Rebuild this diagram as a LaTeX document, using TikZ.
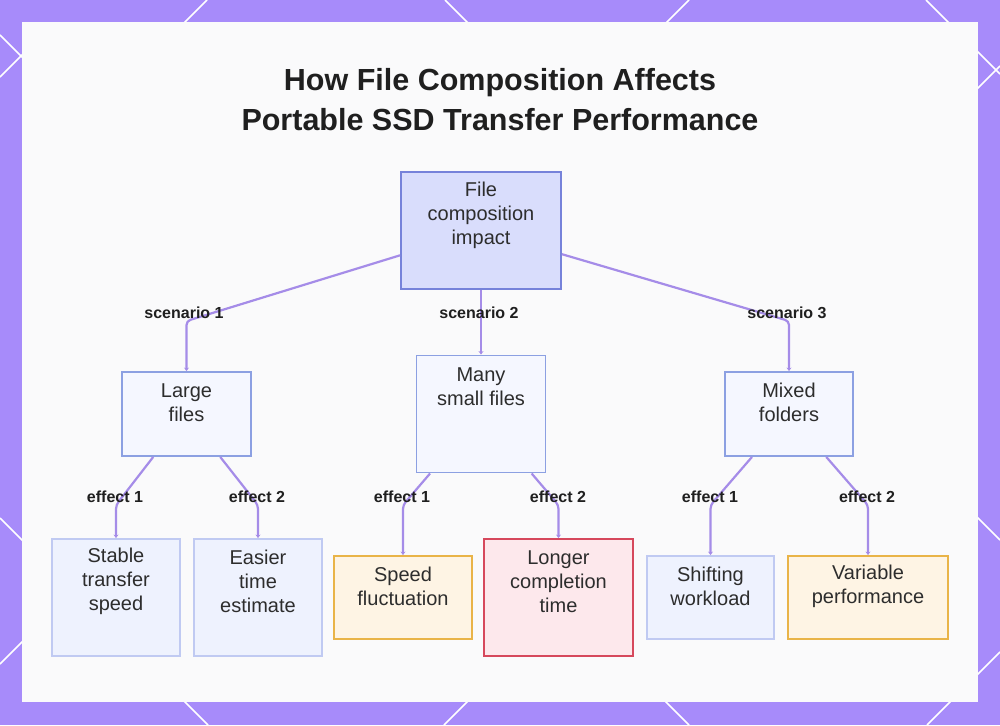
\documentclass[tikz,border=0pt]{standalone}
\usepackage{fontspec}
\setmainfont{Liberation Sans}
\usetikzlibrary{arrows.meta}
\definecolor{bordpurple}{RGB}{167,139,250}
\definecolor{panelbg}{RGB}{250,250,251}
\definecolor{connc}{RGB}{165,140,232}
\definecolor{rootfill}{RGB}{217,221,252}
\definecolor{rootdraw}{RGB}{118,130,218}
\definecolor{midfill}{RGB}{245,247,255}
\definecolor{middraw}{RGB}{140,160,226}
\definecolor{leaffill}{RGB}{238,242,254}
\definecolor{leafdraw}{RGB}{192,202,242}
\definecolor{orfill}{RGB}{254,244,228}
\definecolor{ordraw}{RGB}{233,180,72}
\definecolor{redfill}{RGB}{253,232,236}
\definecolor{reddraw}{RGB}{214,72,92}
\definecolor{txtc}{RGB}{45,45,45}
\begin{document}
\begin{tikzpicture}[x=1pt,y=-1pt,
  box/.style={draw, rectangle, line width=1.9pt, inner sep=0pt},
  rootbox/.style={box, fill=rootfill, draw=rootdraw},
  midbox/.style={box, fill=midfill, draw=middraw},
  leafbox/.style={box, fill=leaffill, draw=leafdraw},
  orbox/.style={box, fill=orfill, draw=ordraw},
  redbox/.style={box, fill=redfill, draw=reddraw},
  txt/.style={align=center, text=txtc, inner sep=0pt, font=\fontsize{20}{24}\selectfont},
  elabel/.style={inner sep=0pt, text=black!88, font=\bfseries\fontsize{16}{18}\selectfont},
  conn/.style={draw=connc, line width=2.2pt, rounded corners=4pt, -{Stealth[length=3.5pt,width=5pt]}},
  deco/.style={draw=white, line width=1.5pt}
]
\useasboundingbox (0,0) rectangle (1000,725);
\fill[bordpurple] (0,0) rectangle (1000,725);
% decorative lines on the frame
\draw[deco] (207,0) -- (180,27);
\draw[deco] (445,0) -- (472,27);
\draw[deco] (689,0) -- (662,27);
\draw[deco] (926,0) -- (982,56) -- (1000,74);
\draw[deco] (180,697) -- (208,725);
\draw[deco] (472,697) -- (444,725);
\draw[deco] (661,697) -- (689,725);
\draw[deco] (1000,652) -- (927,725);
\draw[deco] (0,35) -- (27,62);
\draw[deco] (27,50) -- (0,77);
\draw[deco] (0,518) -- (27,545);
\draw[deco] (27,637) -- (0,664);
\draw[deco] (973,93) -- (1000,66);
\draw[deco] (973,513) -- (1000,540);
\fill[panelbg] (22,22) rectangle (978,702);

% title
\node[align=center, text=black!88, inner sep=0pt, font=\bfseries\fontsize{30.5}{40}\selectfont] (title) at (500,100) {How File Composition Affects\\Portable SSD Transfer Performance};

% nodes
\node[rootbox, minimum width=160pt, minimum height=117pt,
  label={[txt, name=rootT, yshift=15.5pt]center:File\\composition\\impact}] (root) at (481,230.5) {};
\node[midbox, minimum width=129pt, minimum height=84pt,
  label={[txt, name=largeT, yshift=11.5pt]center:Large\\files}] (large) at (186.5,414) {};
\node[midbox, minimum width=129pt, minimum height=117pt,
  label={[txt, name=manyT, yshift=27.5pt]center:Many\\small files}] (many) at (481,414) {};
\node[midbox, minimum width=128pt, minimum height=84pt,
  label={[txt, name=mixedT, yshift=11.5pt]center:Mixed\\folders}] (mixed) at (789,414) {};

\node[leafbox, minimum width=128pt, minimum height=117pt,
  label={[txt, name=stableT, yshift=16pt]center:Stable\\transfer\\speed}] (stable) at (116,597.5) {};
\node[leafbox, minimum width=128pt, minimum height=117pt,
  label={[txt, name=easierT, yshift=16pt]center:Easier\\time\\estimate}] (easier) at (258,597.5) {};
\node[orbox, minimum width=138pt, minimum height=83pt,
  label={[txt, name=speedT, yshift=11pt]center:Speed\\fluctuation}] (speed) at (403,597.5) {};
\node[redbox, minimum width=149pt, minimum height=117pt,
  label={[txt, name=longerT, yshift=15.5pt]center:Longer\\completion\\time}] (longer) at (558.5,597.5) {};
\node[leafbox, minimum width=127pt, minimum height=83pt,
  label={[txt, name=shiftT, yshift=11pt]center:Shifting\\workload}] (shift) at (710.5,597.5) {};
\node[orbox, minimum width=160pt, minimum height=83pt,
  label={[txt, name=varT, yshift=11pt]center:Variable\\performance}] (var) at (868,597.5) {};

% bend points
\coordinate (b1) at (186.5,321);
\coordinate (b3) at (789,321);
\coordinate (e11) at (116,505);
\coordinate (e12) at (258,505);
\coordinate (e21) at (403,505);
\coordinate (e22) at (558.5,505);
\coordinate (e31) at (710.5,505);
\coordinate (e32) at (868,505);

% connectors
\draw[conn] (root) -- (b1) -- (large);
\draw[conn] (root) -- (many);
\draw[conn] (root) -- (b3) -- (mixed);
\draw[conn] (large) -- (e11) -- (stable);
\draw[conn] (large) -- (e12) -- (easier);
\draw[conn] (many) -- (e21) -- (speed);
\draw[conn] (many) -- (e22) -- (longer);
\draw[conn] (mixed) -- (e31) -- (shift);
\draw[conn] (mixed) -- (e32) -- (var);

% edge labels
\node[elabel] (s1) at (184,313) {scenario 1};
\node[elabel] (s2) at (479,313) {scenario 2};
\node[elabel] (s3) at (787,313) {scenario 3};
\node[elabel] (f11) at (115,497) {effect 1};
\node[elabel] (f12) at (257,497) {effect 2};
\node[elabel] (f21) at (402,497) {effect 1};
\node[elabel] (f22) at (558,497) {effect 2};
\node[elabel] (f31) at (710,497) {effect 1};
\node[elabel] (f32) at (867,497) {effect 2};
\end{tikzpicture}
\end{document}
